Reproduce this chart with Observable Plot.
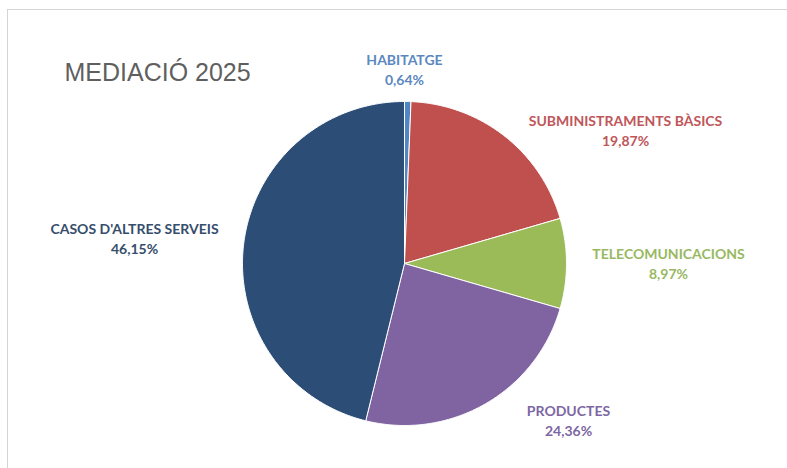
<!DOCTYPE html>
<html>
<head>
<meta charset="utf-8">
<script src="https://cdn.jsdelivr.net/npm/d3@7"></script>
<script src="https://cdn.jsdelivr.net/npm/@observablehq/plot@0.6"></script>
<style>
  html, body { margin: 0; padding: 0; background: #fff; }
  #wrap { position: relative; width: 787px; height: 468px; overflow: hidden; }
  #frame { position: absolute; left: 7px; top: 9px; right: -2px; bottom: -2px;
           border-top: 1px solid #d4d4d4; border-left: 1px solid #d4d4d4; pointer-events: none; }
  #chart { position: absolute; left: 0; top: 0; }
</style>
</head>
<body>
<div id="wrap"><div id="chart"></div><div id="frame"></div></div>
<script>
// ---- data ----
const title = "MEDIACIÓ 2025";
const categories = ["HABITATGE", "SUBMINISTRAMENTS BÀSICS", "TELECOMUNICACIONS", "PRODUCTES", "CASOS D'ALTRES SERVEIS"];
const values = [0.64, 19.87, 8.97, 24.36, 46.15];
const valueLabels = ["0,64%", "19,87%", "8,97%", "24,36%", "46,15%"];

// ---- styles / layout (not data) ----
const sliceColors = ["#4f86c6", "#c0504d", "#9bbb59", "#8064a2", "#2c4d76"];
const labelColors = ["#5b88bf", "#c0565a", "#98b862", "#7c67a3", "#364d6c"];
// label centre offsets from pie centre, in pixels (x right, y up)
const labelPos = [[0, 193], [221, 132], [264, -1], [164, -158], [-270, 24]];

const W = 787, H = 468, cx = 404, cy = 263, R = 162;

const pie = d3.pie().sort(null).value(d => d)(values);
const polys = [];
pie.forEach((p, i) => {
  const a0 = p.startAngle, a1 = p.endAngle;
  const n = Math.max(2, Math.ceil((a1 - a0) / 0.01));
  polys.push({cat: categories[i], x: 0, y: 0});
  for (let k = 0; k <= n; k++) {
    const a = a0 + (a1 - a0) * k / n;
    polys.push({cat: categories[i], x: R * Math.sin(a), y: R * Math.cos(a)});
  }
  polys.push({cat: categories[i], x: 0, y: 0});
});

const labels = categories.map((c, i) => ({
  cat: c, val: valueLabels[i], x: labelPos[i][0], y: labelPos[i][1], color: labelColors[i]
}));

const font = "Lato, 'Open Sans', sans-serif";
const chart = Plot.plot({
  width: W, height: H,
  margin: 0,
  x: {domain: [-cx, W - cx], axis: null},
  y: {domain: [cy - H, cy], axis: null},
  color: {domain: categories, range: sliceColors},
  style: {background: "transparent"},
  marks: [
    Plot.line(polys, {x: "x", y: "y", z: "cat", fill: "cat", stroke: "white", strokeWidth: 1, curve: "linear"}),
    Plot.text(labels, {x: "x", y: "y", text: "cat", dy: -10, fill: d => d.color,
      fontSize: 14, fontWeight: "bold", fontFamily: font}),
    Plot.text(labels, {x: "x", y: "y", text: "val", dy: 10, fill: d => d.color,
      fontSize: 14, fontWeight: "bold", fontFamily: font}),
    Plot.text([title], {frameAnchor: "top-left", dx: 64, dy: 63, text: d => d, textAnchor: "start",
      lineAnchor: "top", fill: "#5f5f5f", fontSize: 25, fontFamily: "'Liberation Sans', Arial, sans-serif",
      letterSpacing: "-0.5px"})
  ]
});
document.getElementById("chart").appendChild(chart);
</script>
</body>
</html>
